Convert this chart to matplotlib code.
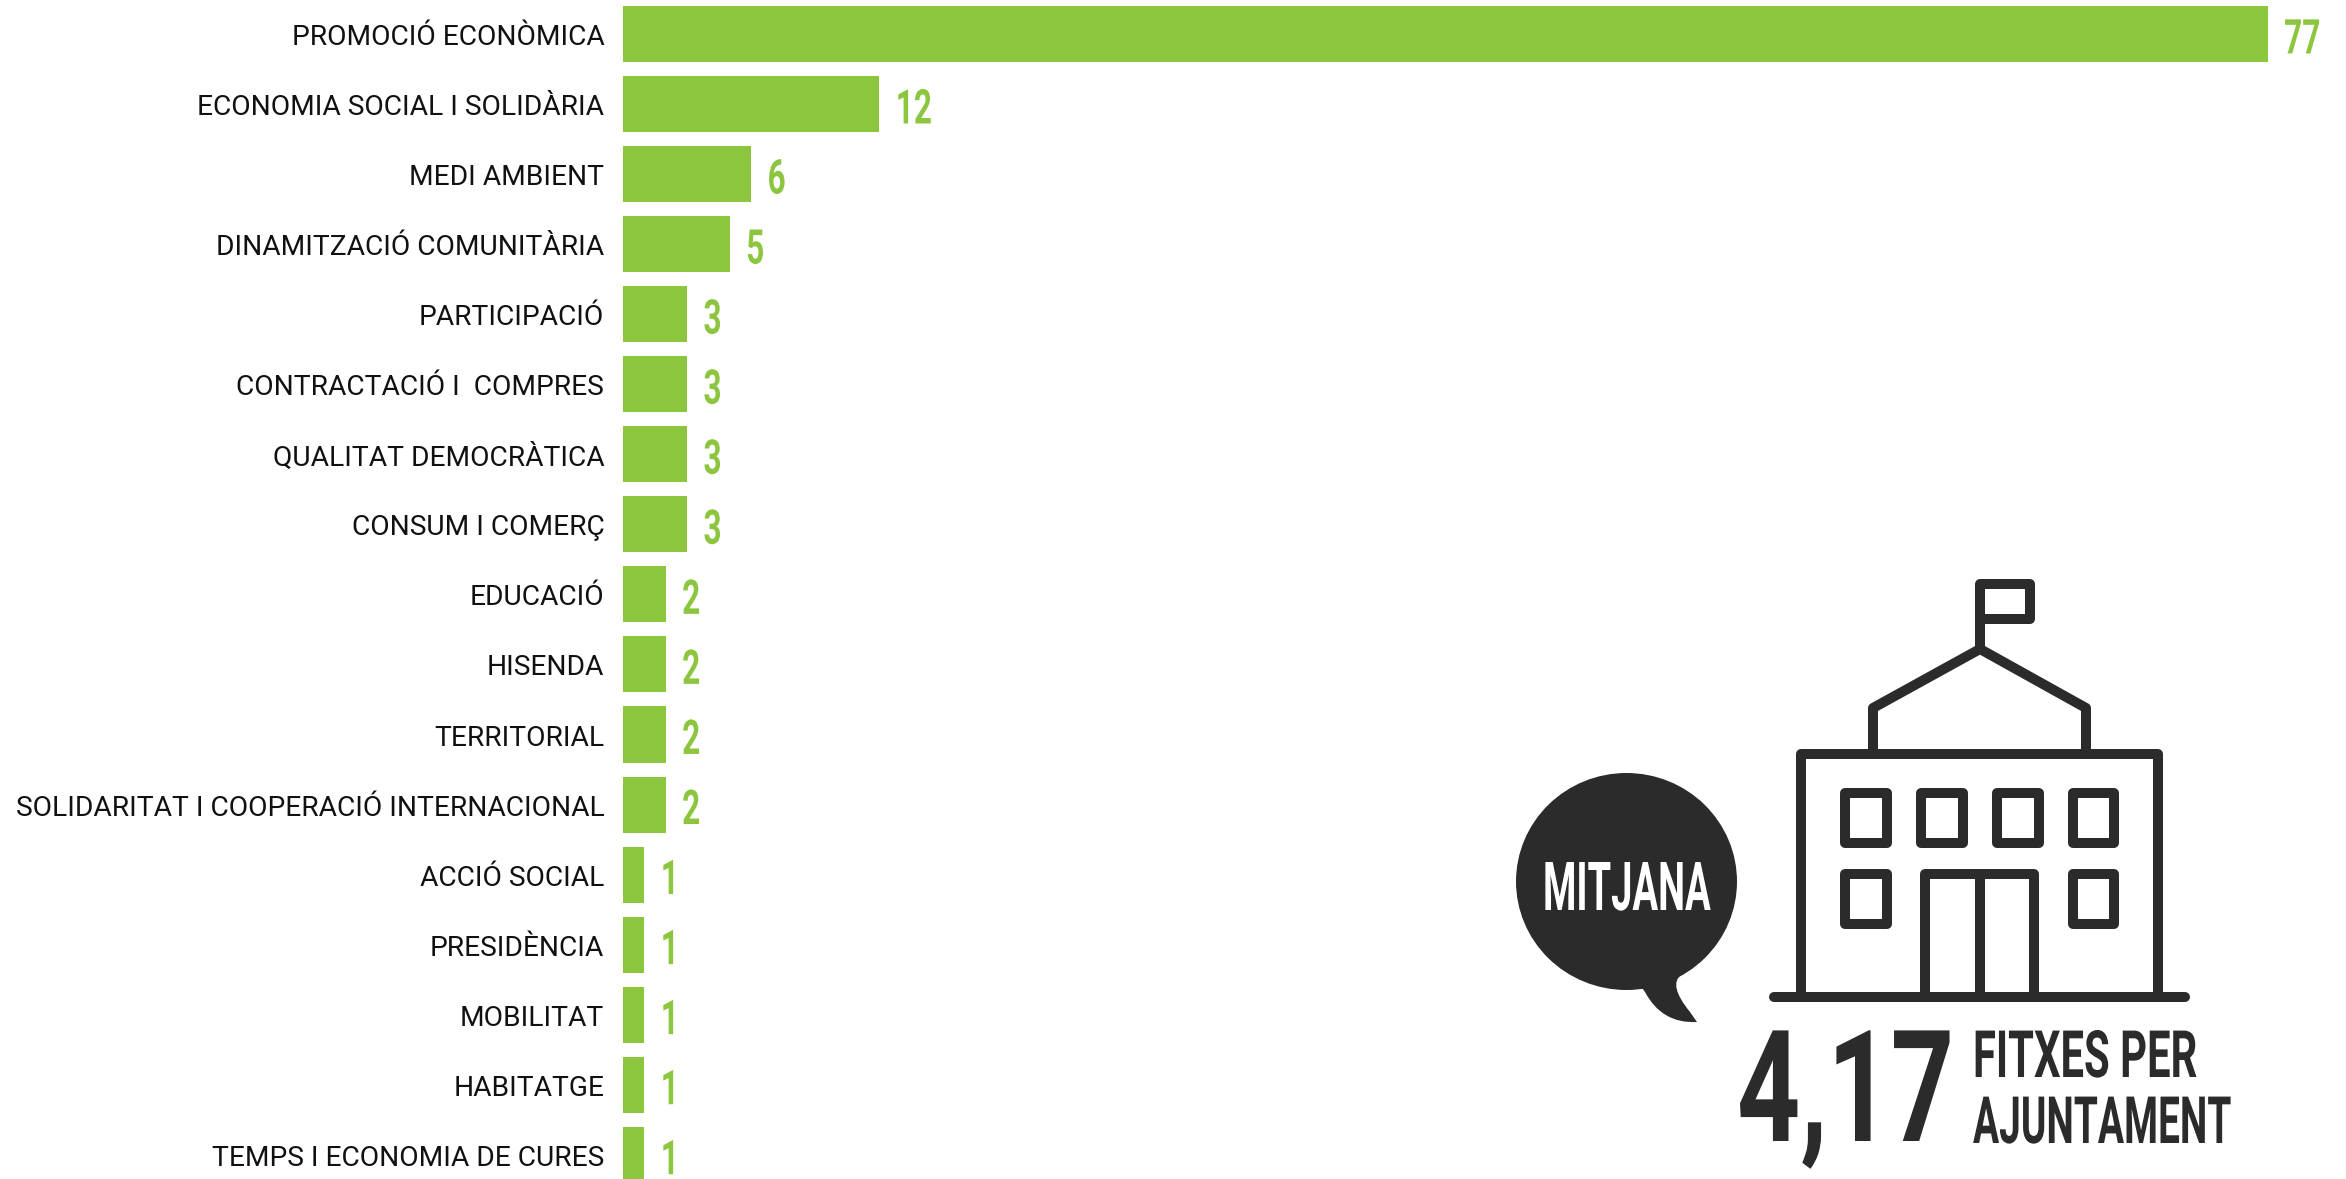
import matplotlib
matplotlib.use("Agg")
import matplotlib.pyplot as plt
import matplotlib.patheffects as pe
from matplotlib.patches import Ellipse, PathPatch, Rectangle
from matplotlib.path import Path
from matplotlib.text import Text
from matplotlib.transforms import Affine2D, Bbox, ScaledTranslation

# Data
categories = ["PROMOCIÓ ECONÒMICA", "ECONOMIA SOCIAL I SOLIDÀRIA", "MEDI AMBIENT",
              "DINAMITZACIÓ COMUNITÀRIA", "PARTICIPACIÓ", "CONTRACTACIÓ I  COMPRES",
              "QUALITAT DEMOCRÀTICA", "CONSUM I COMERÇ", "EDUCACIÓ", "HISENDA",
              "TERRITORIAL", "SOLIDARITAT I COOPERACIÓ INTERNACIONAL", "ACCIÓ SOCIAL",
              "PRESIDÈNCIA", "MOBILITAT", "HABITATGE", "TEMPS I ECONOMIA DE CURES"]
values = [77, 12, 6, 5, 3, 3, 3, 3, 2, 2, 2, 2, 1, 1, 1, 1, 1]
mean_value = "4,17"

GREEN = "#8cc63f"
DARK = "#2b2b2b"
W, H = 2346, 1179


# no condensed font installed, so squeeze the glyphs sideways when drawing
class Squeeze(pe.AbstractPathEffect):
    def __init__(self, sx):
        self.sx = sx

    def draw_path(self, renderer, gc, tpath, affine, rgbFace=None):
        renderer.draw_path(gc, tpath, Affine2D().scale(self.sx, 1) + affine, rgbFace)


class NarrowText(Text):
    def __init__(self, x, y, s, sx, **kw):
        super().__init__(x, y, s, family="Roboto", fontweight="bold", ha="left",
                         va="baseline", **kw)
        self.sx = sx
        self.set_path_effects([Squeeze(sx)])

    def get_window_extent(self, renderer=None, dpi=None):
        b = super().get_window_extent(renderer, dpi)
        return Bbox.from_extents(b.x0, b.y0, b.x0 + b.width * self.sx, b.y1)


fig = plt.figure(figsize=(W / 100, H / 100), dpi=100, facecolor="white")

# Bar chart
ax = fig.add_axes([623 / W, 0, 1 - 623 / W, 1])
pos = list(range(len(categories)))
ax.barh(pos, values, height=0.8, color=GREEN)
ax.set_xlim(0, (W - 623) / 21.36)
ax.set_ylim((H - 34) / 70.05, -34 / 70.05)
ax.set_yticks(pos)
ax.set_yticklabels(categories, family="Roboto", fontsize=20.25, color="#111111")
ax.tick_params(axis="y", length=0, pad=13.5)
ax.set_xticks([])
for s in ax.spines.values():
    s.set_visible(False)
ax.patch.set_alpha(0)
down = ScaledTranslation(0, -0.005, fig.dpi_scale_trans)
for lab in ax.get_yticklabels():
    lab.set_transform(lab.get_transform() + down)

for p, v in zip(pos, values):
    tr = ax.transData + ScaledTranslation(11.8 / 72, -14 / 72, fig.dpi_scale_trans)
    ax.add_artist(NarrowText(v, p, str(v), 0.66, fontsize=34.5, color=GREEN, transform=tr,
                             clip_on=False))

# Icon layer, in pixels of the picture
ic = fig.add_axes([0, 0, 1, 1])
ic.set_xlim(0, W)
ic.set_ylim(H, 0)
ic.axis("off")
ic.patch.set_alpha(0)


def line(xs, ys, cap="butt"):
    ic.plot(xs, ys, color=DARK, lw=7.2, solid_capstyle=cap, solid_joinstyle="round")


def box(x0, y0, x1, y1):
    ic.add_patch(Rectangle((x0, y0), x1 - x0, y1 - y0, fill=False, ec=DARK, lw=7.2, joinstyle="round"))


box(1980, 584, 2030, 619)
line([1980, 1980], [619, 649])
line([1873, 1873, 1980, 2086, 2086], [754, 708, 649, 708, 754])
box(1801, 754, 2158, 997)
line([1774, 2185], [997, 997], cap="round")
for x0, x1 in [(1845, 1887), (1921, 1963), (1997, 2039), (2073, 2114)]:
    box(x0, 793, x1, 843)
for x0, x1 in [(1845, 1887), (2073, 2114)]:
    box(x0, 874, x1, 924)
line([1925, 1925, 2034, 2034], [997, 874, 874, 997])
line([1980, 1980], [874, 997])

ic.add_patch(Ellipse((1626.5, 881.5), 221, 217, color=DARK, lw=0))
tail = Path([(1640, 985), (1645, 992), (1662, 1024), (1697, 1022), (1690, 1012), (1668, 985),
             (1681, 975), (1640, 985)],
            [Path.MOVETO, Path.LINETO, Path.CURVE3, Path.CURVE3, Path.LINETO, Path.CURVE3,
             Path.CURVE3, Path.CLOSEPOLY])
ic.add_patch(PathPatch(tail, fc=DARK, ec="none"))

ic.add_artist(NarrowText(1543, 910, "MITJANA", 0.565, fontsize=48.6, color="white", transform=ic.transData))
ic.add_artist(NarrowText(1737, 1141, mean_value, 0.71, fontsize=112, color=DARK, transform=ic.transData))
ic.add_artist(NarrowText(1973, 1077, "FITXES PER", 0.64, fontsize=47, color=DARK, transform=ic.transData))
ic.add_artist(NarrowText(1973, 1143, "AJUNTAMENT", 0.595, fontsize=47, color=DARK, transform=ic.transData))

fig.savefig("out.png", dpi=100)
